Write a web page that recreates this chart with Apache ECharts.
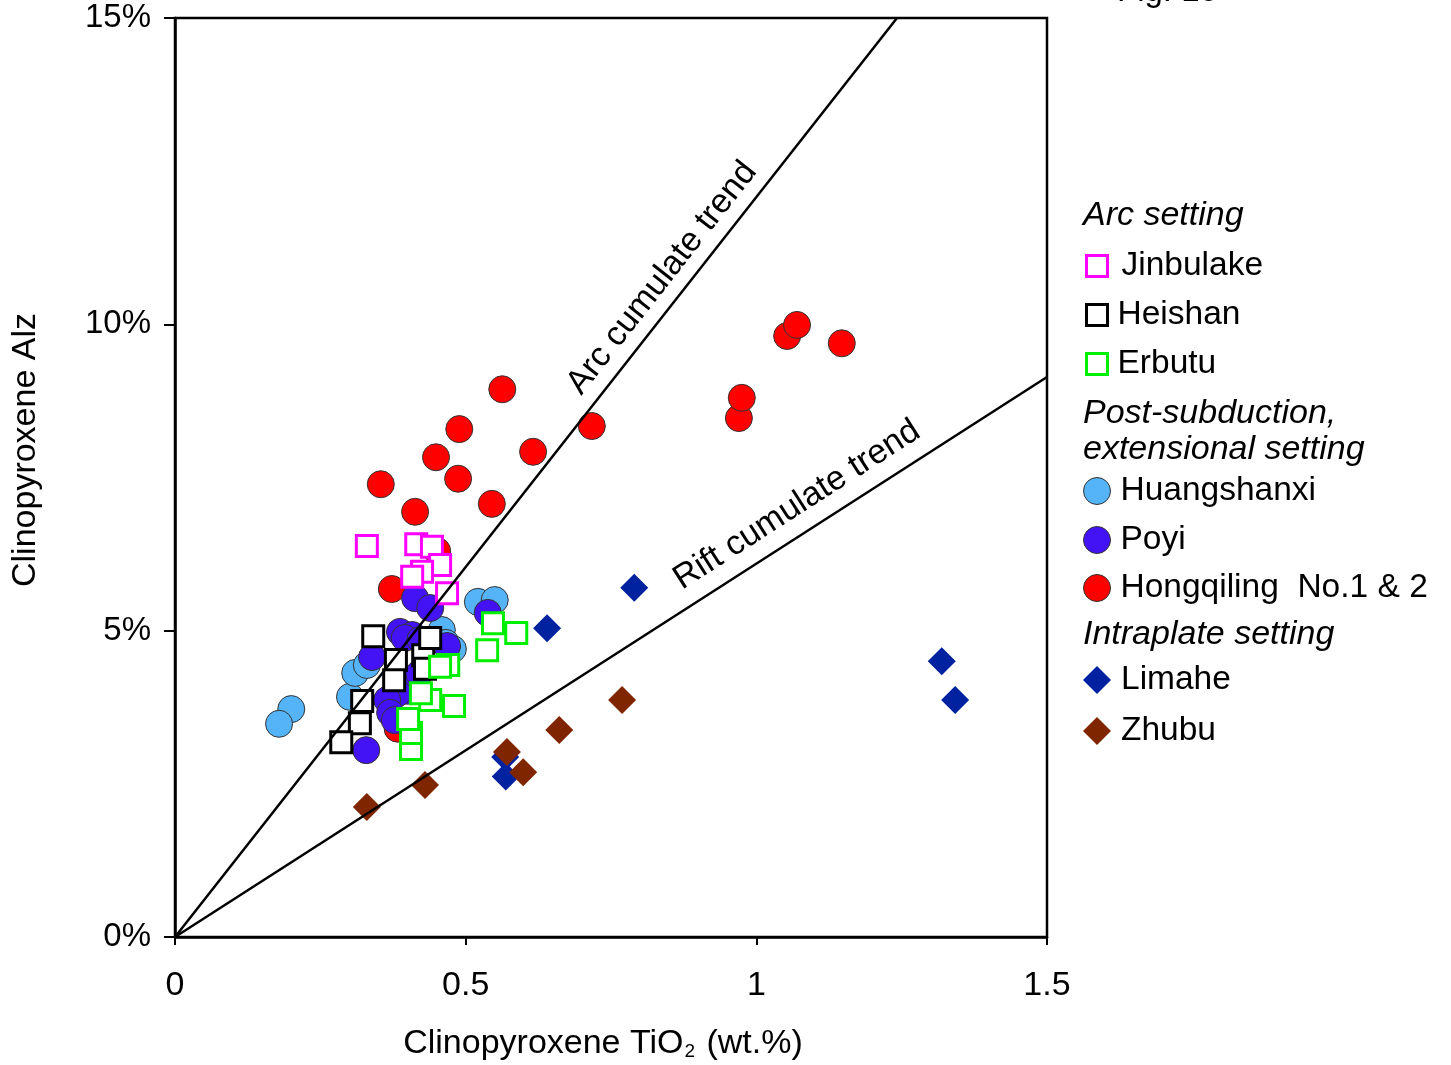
<!DOCTYPE html>
<html>
<head>
<meta charset="utf-8">
<script src="https://cdn.jsdelivr.net/npm/echarts@6/dist/echarts.min.js"></script>
<style>
html,body{margin:0;padding:0;background:#fff;}
#chart{width:1451px;height:1065px;}
</style>
</head>
<body>
<div id="chart"></div>
<script>
// ---- Data (TiO2 wt.%, Alz %) ----
const xTicks = [0, 0.5, 1, 1.5];
const yTicks = [0, 5, 10, 15];
const jinbulake = [[0.330,6.38],[0.415,6.41],[0.442,6.37],[0.456,6.07],[0.425,5.96],[0.408,5.88],[0.468,5.61]];
const heishan = [[0.427,4.60],[0.430,4.38],[0.341,4.91],[0.439,4.88],[0.380,4.52],[0.377,4.19],[0.322,3.85],[0.318,3.49],[0.286,3.18]];
const erbutu = [[0.547,5.12],[0.587,4.96],[0.537,4.68],[0.470,4.44],[0.456,4.41],[0.439,3.87],[0.423,3.98],[0.480,3.77],[0.406,3.07],[0.406,3.33],[0.401,3.56]];
const huangshanxi = [[0.200,3.72],[0.179,3.48],[0.521,5.47],[0.550,5.50],[0.301,3.92],[0.310,4.31],[0.330,4.44],[0.459,5.01],[0.466,4.80],[0.478,4.70]];
const poyi = [[0.329,3.05],[0.538,5.29],[0.413,5.53],[0.439,5.37],[0.387,4.98],[0.408,4.93],[0.395,4.88],[0.422,4.85],[0.339,4.57],[0.468,4.75],[0.392,4.12],[0.40,4.02],[0.383,3.98],[0.365,3.87],[0.370,3.66],[0.378,3.54],[0.42,4.30]];
const hongqiling = [[0.383,3.40],[0.373,5.68],[0.451,6.30],[0.354,7.39],[0.413,6.94],[0.449,7.83],[0.489,8.29],[0.487,7.48],[0.563,8.94],[0.545,7.07],[0.616,7.92],[0.717,8.34],[0.970,8.47],[0.975,8.80],[1.053,9.81],[1.070,9.99],[1.147,9.69]];
const limahe = [[0.790,5.70],[0.640,5.04],[1.319,4.50],[1.342,3.87],[0.568,2.94],[0.569,2.62]];
const zhubu = [[0.330,2.12],[0.430,2.48],[0.571,3.02],[0.599,2.69],[0.661,3.38],[0.769,3.87]];
const arcTrend = [[0,0],[1.242,15]];
const riftTrend = [[0,0],[1.5,9.14]];

const FONT = '"Liberation Sans", Arial, Helvetica, sans-serif';
const chart = echarts.init(document.getElementById('chart'));

function sq(name, data, color, z){
  return {name, type:'scatter', data, symbol:'rect', symbolSize:21, z,
    itemStyle:{color:'#fff', borderColor:color, borderWidth:3, opacity:1}};
}
function circ(name, data, color, z){
  return {name, type:'scatter', data, symbol:'circle', symbolSize:27, z,
    itemStyle:{color, borderColor:'#333', borderWidth:1, opacity:1}};
}
function dia(name, data, color, z){
  return {name, type:'scatter', data, symbol:'diamond', symbolSize:28, z,
    itemStyle:{color, borderWidth:0, opacity:1}};
}

const legendDefs = [
  {name:'Jinbulake', y:266, icon:'rect', w:21, h:21, style:{color:'#fff', borderColor:'#ff00ff', borderWidth:3}},
  {name:'Heishan', y:315, icon:'rect', w:21, h:21, style:{color:'#fff', borderColor:'#000', borderWidth:3}},
  {name:'Erbutu', y:364, icon:'rect', w:21, h:21, style:{color:'#fff', borderColor:'#00ee00', borderWidth:3}},
  {name:'Huangshanxi', y:491, icon:'circle', w:27, h:27, style:{color:'#55b4f7', borderColor:'#333', borderWidth:1}},
  {name:'Poyi', y:540, icon:'circle', w:27, h:27, style:{color:'#4313f6', borderColor:'#333', borderWidth:1}},
  {name:'Hongqiling  No.1 & 2', y:588, icon:'circle', w:27, h:27, style:{color:'#ff0000', borderColor:'#333', borderWidth:1}},
  {name:'Limahe', y:680, icon:'diamond', w:28, h:28, style:{color:'#0022a0', borderWidth:0}},
  {name:'Zhubu', y:731, icon:'diamond', w:28, h:28, style:{color:'#7f2600', borderWidth:0}}
];

const legends = legendDefs.map(d => ({
  data:[{name:d.name, icon:d.icon}], left: d.icon==='rect' ? 1085 : 1083, top: d.y - 17,
  orient:'vertical', padding:0, itemWidth:d.w, itemHeight:d.h, itemGap:0,
  selectedMode:false, itemStyle:d.style,
  textStyle:{fontFamily:FONT, fontSize:33.5, color:'#000', padding:[0,0,0, d.name==='Jinbulake' ? 9 : 5]}
}));

function hdr(text, y){
  return {type:'text', left:1083, top:y-19, z:100,
    style:{text, font:'italic 34px ' + FONT, fill:'#000'}};
}

chart.setOption({
  animation:false,
  backgroundColor:'#fff',
  grid:{left:175, top:18, right:404, bottom:128, containLabel:false, outerBoundsMode:'none',
    show:true, borderColor:'#000', borderWidth:2.5, backgroundColor:'transparent'},
  xAxis:{type:'value', min:0, max:1.5, interval:0.5,
    name:'{a|Clinopyroxene TiO}{s|2}{a| (wt.%)}', nameLocation:'middle', nameGap:84,
    nameTextStyle:{padding:[0,16,0,0], rich:{a:{fontFamily:FONT, fontSize:34, color:'#000', lineHeight:40, verticalAlign:'bottom'}, s:{fontFamily:FONT, fontSize:19, color:'#000', lineHeight:18, verticalAlign:'bottom', padding:[0,2,0,1]}}},
    axisLine:{show:true, onZero:false, lineStyle:{color:'#000', width:2.5}},
    axisTick:{show:true, length:8, lineStyle:{color:'#000', width:2}},
    axisLabel:{fontFamily:FONT, fontSize:34, color:'#000', margin:32,
      formatter: v => xTicks.indexOf(v) >= 0 ? String(v) : ''},
    splitLine:{show:false}},
  yAxis:{type:'value', min:0, max:15, interval:5,
    name:'Clinopyroxene Alz', nameLocation:'middle', nameGap:132, nameRotate:90,
    nameTextStyle:{fontFamily:FONT, fontSize:34, color:'#000', padding:[0,0,0,55]},
    axisLine:{show:true, onZero:false, lineStyle:{color:'#000', width:2.5}},
    axisTick:{show:true, length:11, lineStyle:{color:'#000', width:2}},
    axisLabel:{fontFamily:FONT, fontSize:33, color:'#000', margin:24,
      formatter: v => yTicks.indexOf(v) >= 0 ? v + '%' : ''},
    splitLine:{show:false}},
  legend: legends,
  graphic:[
    hdr('Arc setting', 218),
    hdr('Post-subduction,', 416),
    hdr('extensional setting', 452),
    hdr('Intraplate setting', 637),
    {type:'text', x:1117, y:8, z:100, style:{text:'Fig. 10', font:'33px ' + FONT, fill:'#000', textVerticalAlign:'bottom'}},
    {type:'text', x:662, y:278, rotation:0.904, z:100, style:{text:'Arc cumulate trend', font:'34px ' + FONT, fill:'#000', textAlign:'center', textVerticalAlign:'middle'}},
    {type:'text', x:797, y:505, rotation:0.571, z:100, style:{text:'Rift cumulate trend', font:'34px ' + FONT, fill:'#000', textAlign:'center', textVerticalAlign:'middle'}}
  ],
  series:[
    dia('Limahe', limahe, '#0022a0', 2),
    dia('Zhubu', zhubu, '#7f2600', 2),
    circ('Hongqiling  No.1 & 2', hongqiling, '#ff0000', 2),
    circ('Huangshanxi', huangshanxi, '#55b4f7', 2),
    circ('Poyi', poyi, '#4313f6', 2),
    sq('Heishan', heishan, '#000', 2),
    sq('Erbutu', erbutu, '#00ee00', 2),
    sq('Jinbulake', jinbulake, '#ff00ff', 2),
    {name:'arc', type:'line', data:arcTrend, symbol:'none', z:5, silent:true, lineStyle:{color:'#000', width:2.5}},
    {name:'rift', type:'line', data:riftTrend, symbol:'none', z:5, silent:true, lineStyle:{color:'#000', width:2.5}}
  ]
});
</script>
</body>
</html>
